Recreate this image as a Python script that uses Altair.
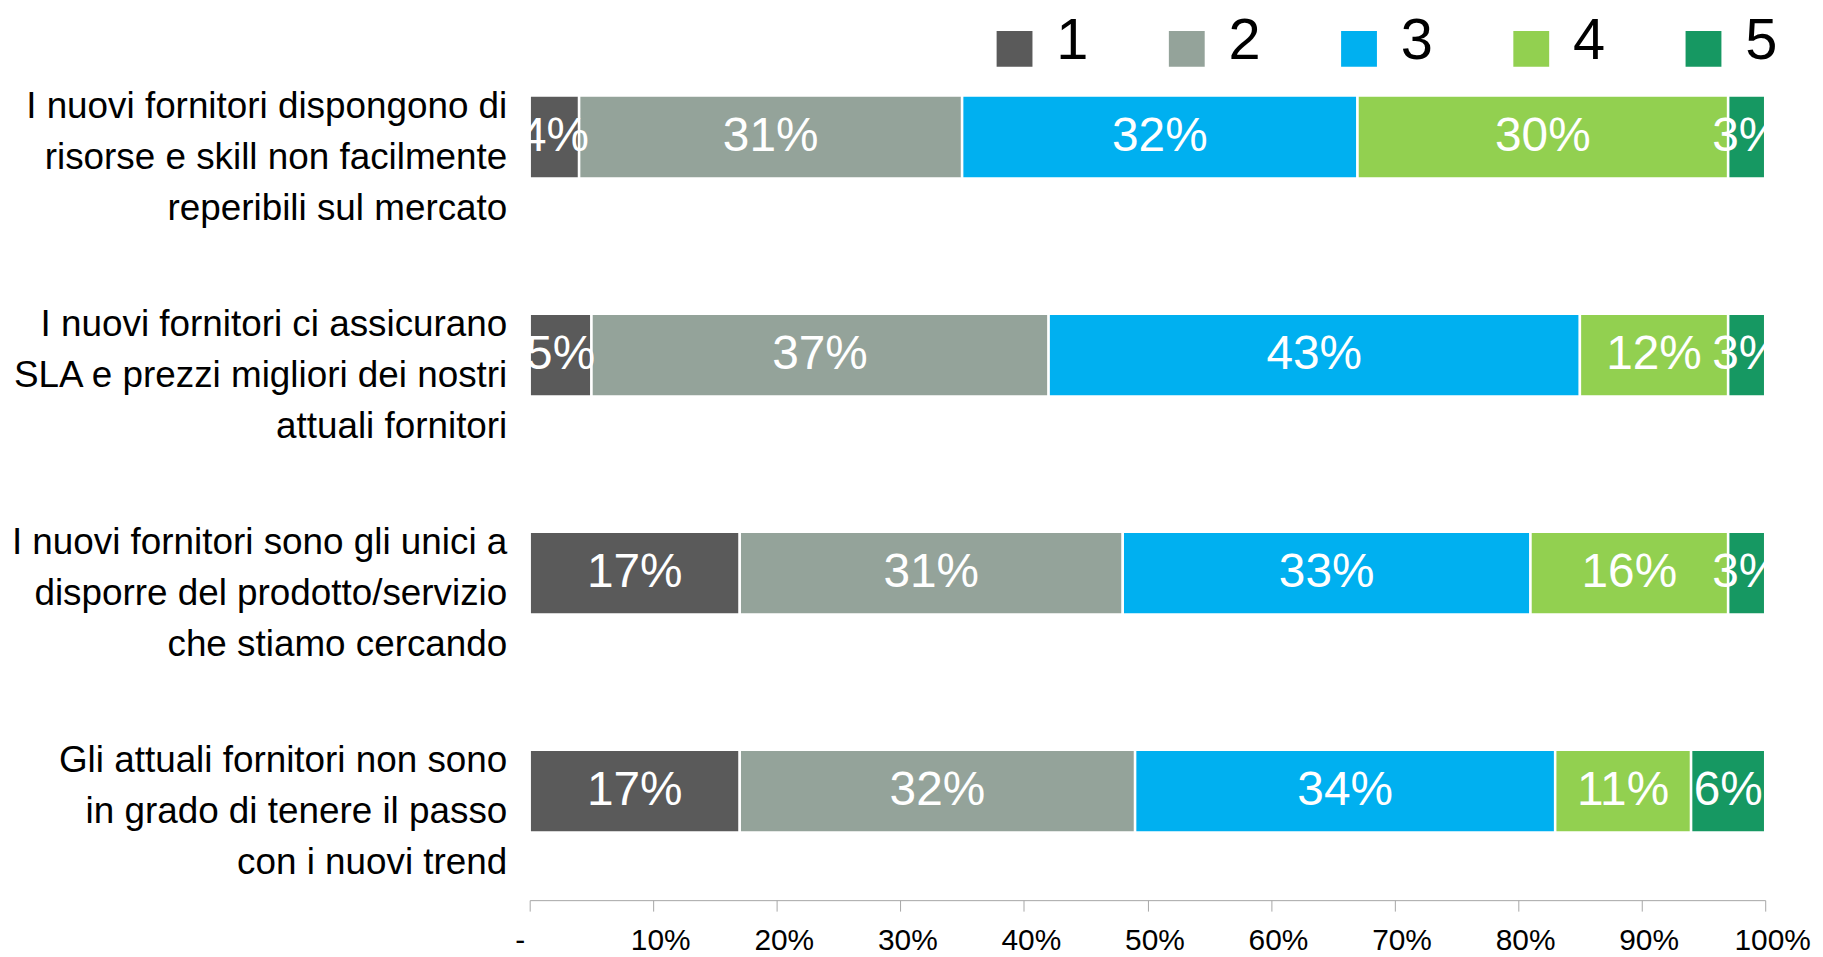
import altair as alt
import pandas as pd

questions = [
    "I nuovi fornitori dispongono di|risorse e skill non facilmente|reperibili sul mercato",
    "I nuovi fornitori ci assicurano|SLA e prezzi migliori dei nostri|attuali fornitori",
    "I nuovi fornitori sono gli unici a|disporre del prodotto/servizio|che stiamo cercando",
    "Gli attuali fornitori non sono|in grado di tenere il passo|con i nuovi trend",
]
ratings = ["1", "2", "3", "4", "5"]
colors = ["#5a5a5a", "#94a39a", "#00b0f0", "#92d050", "#169862"]

v1 = [4, 5, 17, 17]
v2 = [31, 37, 31, 32]
v3 = [32, 43, 33, 34]
v4 = [30, 12, 16, 11]
v5 = [3, 3, 3, 6]

tick_values = [0, 0.1, 0.2, 0.3, 0.4, 0.5, 0.6, 0.7, 0.8, 0.9, 1.0]

rows = []
for r, vals in zip(ratings, [v1, v2, v3, v4, v5]):
    for q, v in zip(questions, vals):
        rows.append({"question": q, "rating": r, "order": int(r), "value": v / 100.0})
df = pd.DataFrame(rows)

FONT = "Liberation Sans"

base = alt.Chart(df).transform_stack(
    stack="value",
    groupby=["question"],
    as_=["x0", "x1"],
    sort=[alt.SortField("order", order="ascending")],
).transform_calculate(
    mid="(datum.x0 + datum.x1) / 2",
    label="format(datum.value, '.0%')",
)

yaxis = alt.Axis(
    title=None,
    labelExpr="split(datum.label, '|')",
    labelFont=FONT,
    labelFontSize=37,
    labelColor="black",
    labelLineHeight=51,
    labelAlign="right",
    labelBaseline="middle",
    labelOffset=-30,
    labelPadding=23,
    labelLimit=0,
    ticks=False,
    domain=False,
)
yscale = alt.Scale(paddingInner=0.62, paddingOuter=0.31)

xaxis = alt.Axis(
    title=None,
    values=tick_values,
    labelExpr="datum.value == 0 ? '-' : format(datum.value, '.0%')",
    domainColor="#a6a6a6",
    tickColor="#a6a6a6",
    tickSize=11,
    labelFont=FONT,
    labelFontSize=30,
    labelColor="black",
    labelPadding=15,
    labelFlush=False,
    labelOverlap=False,
    grid=False,
    labelOffset={"condition": {"test": "datum.value == 0", "value": -10}, "value": 7},
)
xscale = alt.Scale(domain=[0, 1], nice=False)

bars = base.mark_bar(stroke="white", strokeWidth=2.5).encode(
    x=alt.X("x0:Q", scale=xscale, axis=xaxis),
    x2="x1:Q",
    y=alt.Y("question:N", sort=questions, scale=yscale, axis=yaxis),
    color=alt.Color(
        "rating:N",
        scale=alt.Scale(domain=ratings, range=colors),
        legend=alt.Legend(
            title=None,
            orient="none",
            legendX=458,
            legendY=-15,
            direction="horizontal",
            symbolType="M-1,-0.61L1,-0.61L1,1.39L-1,1.39Z",
            symbolSize=1296,
            symbolStrokeWidth=0,
            symbolOpacity=1,
            labelFont=FONT,
            labelFontSize=58,
            labelColor="black",
            labelOffset=13,
            columnPadding=69,
            padding=0,
        ),
    ),
)

text = base.mark_text(
    color="white", font=FONT, fontSize=48, align="center", baseline="middle", clip=True
).encode(
    x=alt.X("mid:Q", scale=xscale, axis=xaxis),
    y=alt.Y("question:N", sort=questions, scale=yscale, axis=yaxis),
    text="label:N",
)

chart = alt.layer(bars, text).properties(
    width=1241,
    height=876,
    autosize=alt.AutoSizeParams(type="none"),
    padding={"left": 524, "top": 18, "right": 50, "bottom": 55},
).configure_view(stroke=None)

chart.save("out.html", embed_options={"renderer": "svg", "actions": False})
